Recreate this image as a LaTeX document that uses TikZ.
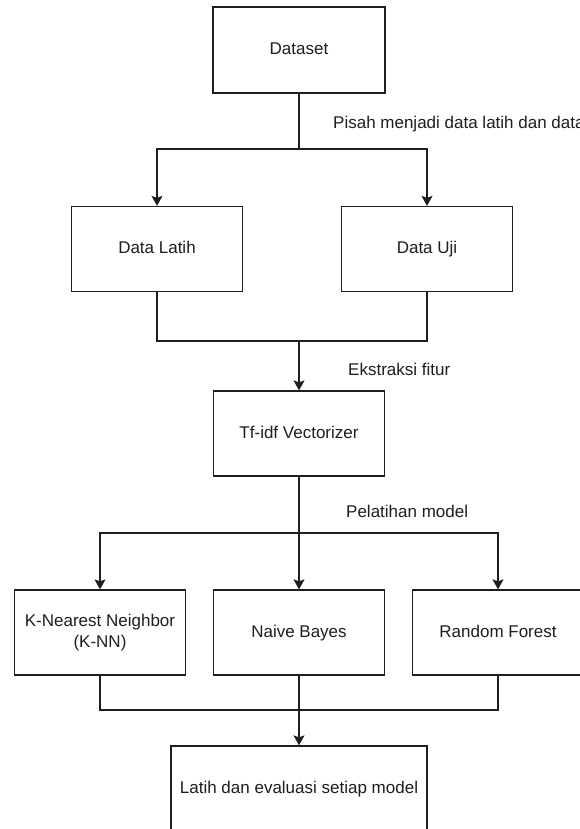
\documentclass[tikz,border=0pt]{standalone}
\usepackage{fontspec}
\setmainfont{Liberation Sans}
\usetikzlibrary{arrows.meta}
\definecolor{ink}{RGB}{30,30,30}
\tikzset{
  box/.style={draw=ink, line width=1.3pt, fill=white, minimum width=171pt, minimum height=85pt, inner sep=0pt, align=center, text=ink, font=\fontsize{17pt}{21pt}\selectfont},
  one/.style={text height=12.5pt, text depth=3.5pt},
  lbl/.style={anchor=west, inner sep=0pt, text=ink, font=\fontsize{17pt}{21pt}\selectfont},
  line/.style={draw=ink, line width=1.3pt},
  arr/.style={line, -{Stealth[length=10pt, width=11pt, inset=2pt]}}
}
\begin{document}
\begin{tikzpicture}[x=1pt, y=-1pt]
\useasboundingbox (0,0) rectangle (580,829);
\clip (0,0) rectangle (580,829);
\fill[white] (0,0) rectangle (580,829);
% nodes
\node[box, one, minimum width=172pt, minimum height=86pt] (ds) at (299,50) {Dataset};
\node[box, one] (latih) at (157,249) {Data Latih};
\node[box, one] (uji) at (427,249) {Data Uji};
\node[box, one] (tfidf) at (299,433.5) {Tf-idf Vectorizer};
\node[box] (knn) at (100,632.5) {K-Nearest Neighbor\\(K-NN)};
\node[box, one] (nb) at (299,632.5) {Naive Bayes};
\node[box, one] (rf) at (498,632.5) {Random Forest};
\node[box, one, minimum width=256pt] (final) at (299,788.5) {Latih dan evaluasi setiap model};
% labels
\node[lbl] (l1) at (333,124.5) {Pisah menjadi data latih dan data uji};
\node[lbl] (l2) at (348,369) {Ekstraksi fitur};
\node[lbl] (l3) at (346,511) {Pelatihan model};
% junctions
\coordinate (s1) at (299,149);
\coordinate (m1) at (299,341);
\coordinate (s2) at (299,533);
\coordinate (m2) at (299,710);
% connectors
\draw[line] (ds.south) -- (s1);
\draw[arr] (s1) -| (latih.north);
\draw[arr] (s1) -| (uji.north);
\draw[line] (latih.south) |- (m1);
\draw[line] (uji.south) |- (m1);
\draw[arr] (m1) -- (tfidf.north);
\draw[line] (tfidf.south) -- (s2);
\draw[arr] (s2) -| (knn.north);
\draw[arr] (s2) -- (nb.north);
\draw[arr] (s2) -| (rf.north);
\draw[line] (knn.south) |- (m2);
\draw[line] (rf.south) |- (m2);
\draw[line] (nb.south) -- (m2);
\draw[arr] (m2) -- (final.north);
\end{tikzpicture}
\end{document}
